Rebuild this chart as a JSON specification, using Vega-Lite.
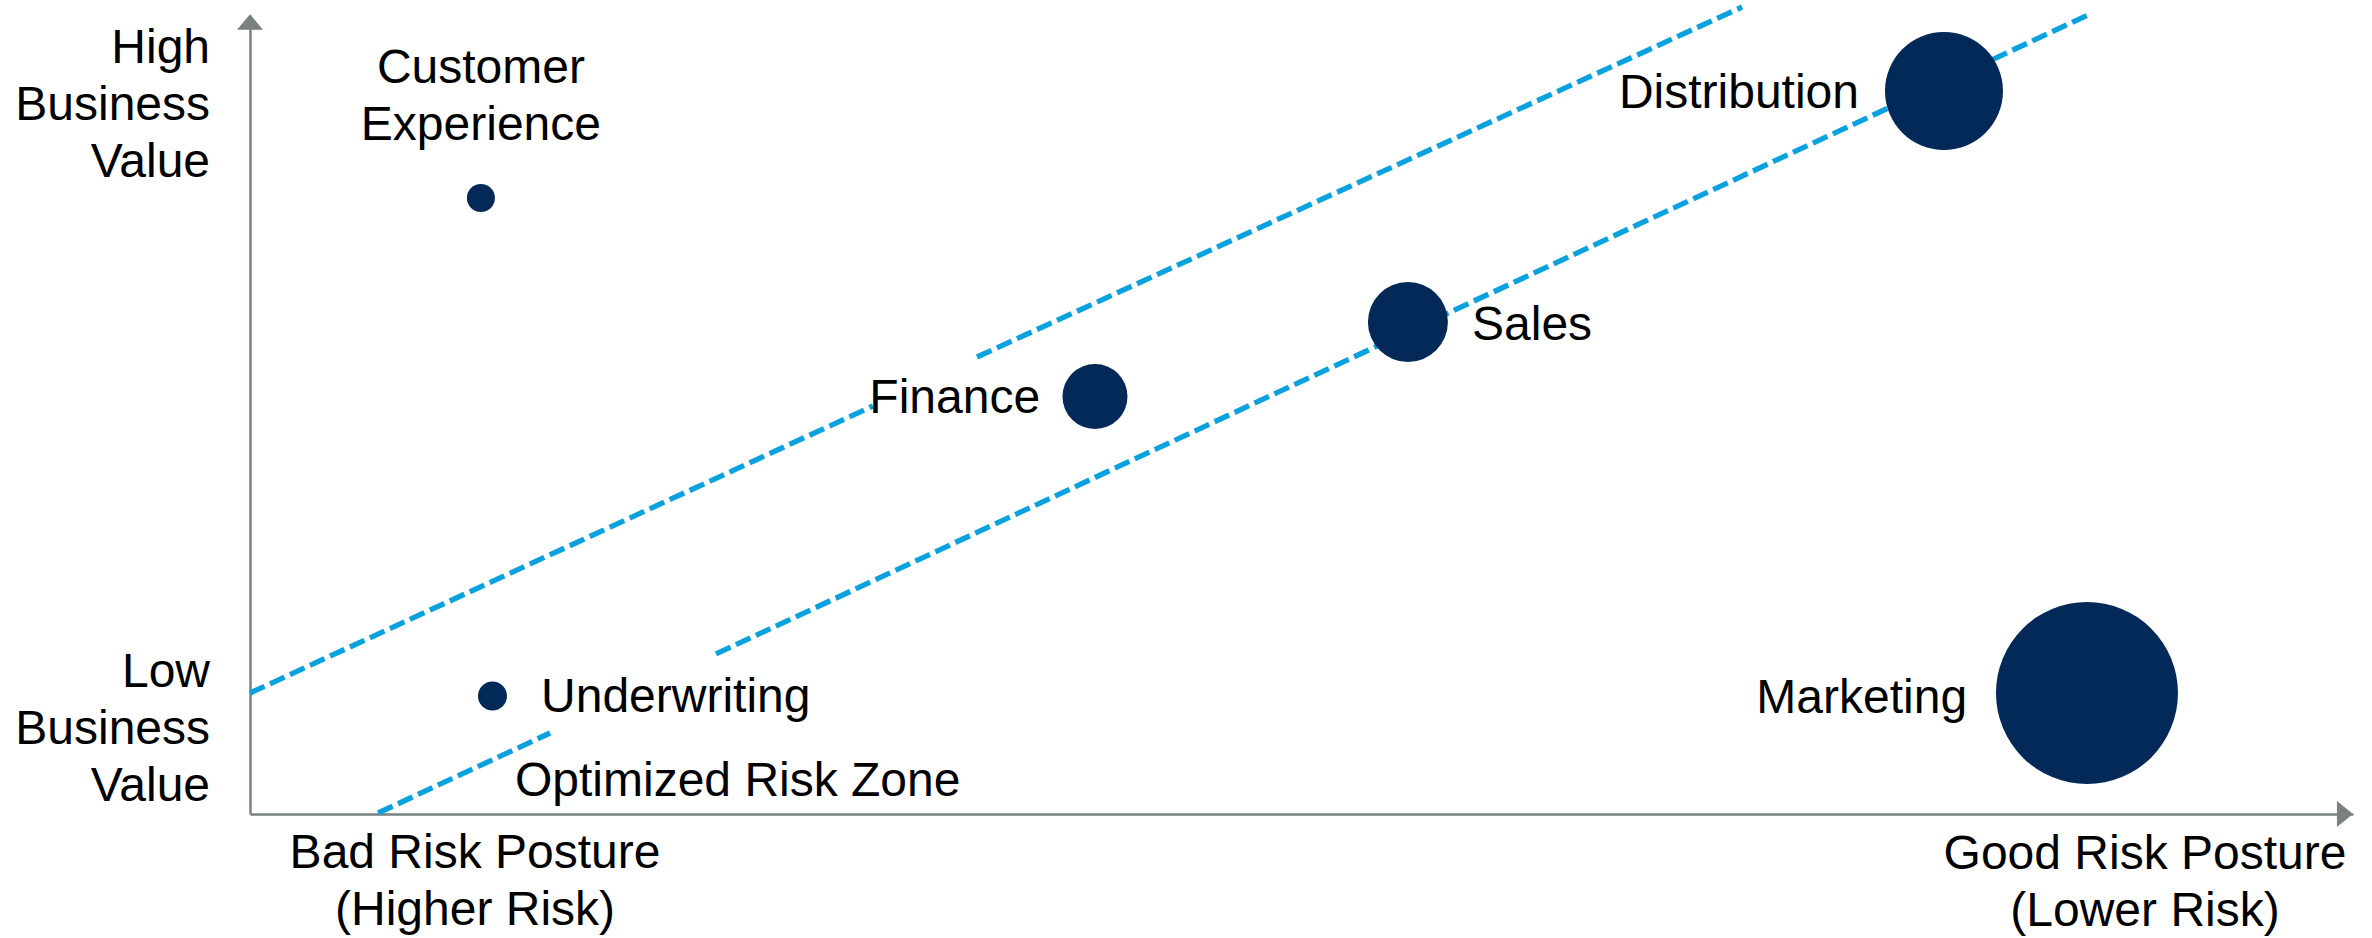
{
  "$schema": "https://vega.github.io/schema/vega-lite/v6.json",
  "width": 2103,
  "height": 799,
  "autosize": {"type": "none"},
  "padding": {"left": 250, "top": 15, "right": 19, "bottom": 124},
  "background": "white",
  "config": {
    "view": {"stroke": null},
    "font": "Liberation Sans",
    "axis": {"domain": true, "domainColor": "#7A8181", "domainWidth": 2.5, "ticks": false, "labels": false, "grid": false}
  },
  "datasets": {
    "units": [
      {"unit": "Customer Experience", "risk": 10.98, "value": 77.10, "impact": 2.37},
      {"unit": "Underwriting", "risk": 11.53, "value": 14.77, "impact": 2.54},
      {"unit": "Finance", "risk": 40.18, "value": 52.25, "impact": 12.76},
      {"unit": "Sales", "risk": 55.06, "value": 61.58, "impact": 19.32},
      {"unit": "Distribution", "risk": 80.55, "value": 90.49, "impact": 42.04},
      {"unit": "Marketing", "risk": 87.35, "value": 15.14, "impact": 100}
    ],
    "zone": [
      {"edge": "upper", "part": 1, "x1": 0, "y1": 15.14, "x2": 29.62, "y2": 51.06},
      {"edge": "upper", "part": 2, "x1": 34.57, "y1": 57.20, "x2": 70.95, "y2": 101.0},
      {"edge": "lower", "part": 1, "x1": 6.09, "y1": 0.125, "x2": 14.27, "y2": 10.14},
      {"edge": "lower", "part": 2, "x1": 22.16, "y1": 20.03, "x2": 87.40, "y2": 100.0}
    ],
    "arrows": [
      {"axis": "y", "x": 0, "y": 99.12},
      {"axis": "x", "x": 99.62, "y": 0}
    ],
    "labelsRight": [
      {"label": "Finance", "x": 37.57, "y": 50.19},
      {"label": "Distribution", "x": 76.51, "y": 88.36},
      {"label": "Marketing", "x": 81.65, "y": 12.64},
      {"label": "High\nBusiness\nValue", "x": -1.90, "y": 93.99},
      {"label": "Low\nBusiness\nValue", "x": -1.90, "y": 15.89}
    ],
    "labelsLeft": [
      {"label": "Underwriting", "x": 13.84, "y": 12.77},
      {"label": "Sales", "x": 58.11, "y": 59.32},
      {"label": "Optimized Risk Zone", "x": 12.60, "y": 2.25}
    ],
    "labelsCenter": [
      {"label": "Customer\nExperience", "x": 10.98, "y": 91.49},
      {"label": "Bad Risk Posture\n(Higher Risk)", "x": 10.70, "y": -6.76},
      {"label": "Good Risk Posture\n(Lower Risk)", "x": 90.11, "y": -6.88}
    ]
  },
  "layer": [
    {
      "data": {"name": "zone"},
      "mark": {"type": "rule", "color": "#0AA2DE", "strokeWidth": 5.3, "strokeDash": [16, 6]},
      "encoding": {
        "x": {"field": "x1", "type": "quantitative", "title": null, "scale": {"domain": [0, 100], "nice": false, "zero": false}},
        "y": {"field": "y1", "type": "quantitative", "title": null, "scale": {"domain": [0, 100], "nice": false, "zero": false}},
        "x2": {"field": "x2"},
        "y2": {"field": "y2"}
      }
    },
    {
      "data": {"name": "units"},
      "mark": {"type": "circle", "color": "#022957", "opacity": 1},
      "encoding": {
        "x": {"field": "risk", "type": "quantitative", "title": null},
        "y": {"field": "value", "type": "quantitative", "title": null},
        "size": {"field": "impact", "type": "quantitative", "scale": {"domain": [0, 100], "range": [0, 33124]}, "legend": null}
      }
    },
    {
      "data": {"name": "arrows"},
      "mark": {"type": "point", "filled": true, "color": "#7A8181", "opacity": 1, "size": 676, "strokeWidth": 0},
      "encoding": {
        "x": {"field": "x", "type": "quantitative", "title": null},
        "y": {"field": "y", "type": "quantitative", "title": null},
        "shape": {"field": "axis", "type": "nominal", "legend": null, "scale": {"domain": ["x", "y"], "range": ["M-0.62,-1L0.62,0L-0.62,1Z", "M-1,0.6L1,0.6L0,-0.6Z"]}}
      }
    },
    {
      "data": {"name": "labelsRight"},
      "mark": {"type": "text", "align": "right", "baseline": "alphabetic", "fontSize": 48, "color": "#000000", "lineBreak": "\n", "lineHeight": 57},
      "encoding": {
        "x": {"field": "x", "type": "quantitative", "title": null},
        "y": {"field": "y", "type": "quantitative", "title": null},
        "text": {"field": "label"}
      }
    },
    {
      "data": {"name": "labelsLeft"},
      "mark": {"type": "text", "align": "left", "baseline": "alphabetic", "fontSize": 48, "color": "#000000", "lineBreak": "\n", "lineHeight": 57},
      "encoding": {
        "x": {"field": "x", "type": "quantitative", "title": null},
        "y": {"field": "y", "type": "quantitative", "title": null},
        "text": {"field": "label"}
      }
    },
    {
      "data": {"name": "labelsCenter"},
      "mark": {"type": "text", "align": "center", "baseline": "alphabetic", "fontSize": 48, "color": "#000000", "lineBreak": "\n", "lineHeight": 57},
      "encoding": {
        "x": {"field": "x", "type": "quantitative", "title": null},
        "y": {"field": "y", "type": "quantitative", "title": null},
        "text": {"field": "label"}
      }
    }
  ]
}
